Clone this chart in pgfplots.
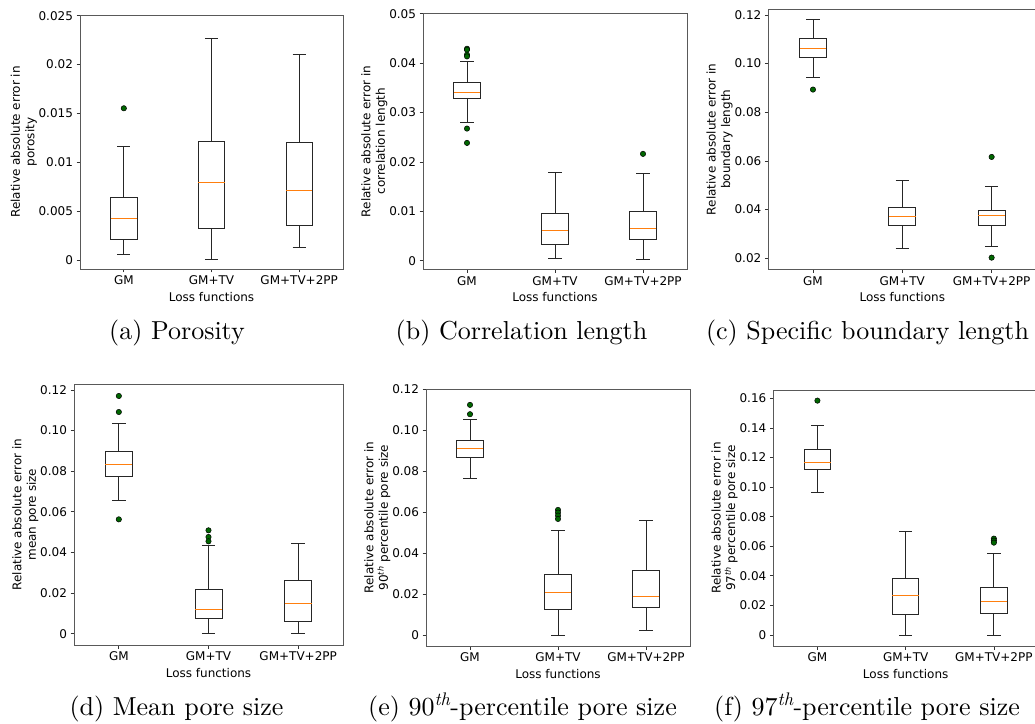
\documentclass[border=0pt]{standalone}
\usepackage{fontspec}
\setsansfont{DejaVu Sans}
\newfontfamily\capfont{lmroman10-regular}[Extension=.otf, ItalicFont=lmroman10-italic]
\usepackage{pgfplots}
\pgfplotsset{compat=1.18}
\usepgfplotslibrary{statistics}
\definecolor{mplorange}{HTML}{FF7F0E}
\definecolor{outgreen}{HTML}{006600}
\pgfplotsset{
  myax/.style={
    scale only axis,
    xmin=0.5, xmax=3.5,
    xtick={1,2,3}, xticklabels={GM,GM+TV,GM+TV+2PP},
    xlabel={Loss functions},
    tick pos=left, tick align=outside,
    major tick length=3.5pt,
    tick style={black!80, line width=0.7pt},
    axis line style={black!65, line width=0.8pt},
    ylabel style={align=center},
    ylabel shift=-5pt,
    tick label style={font=\sffamily\fontsize{12}{14.5}\selectfont},
    label style={font=\sffamily\fontsize{12}{14.5}\selectfont},
    scaled y ticks=false,
    boxplot/draw direction=y,
    boxplot/box extend=0.3,
    boxplot/whisker extend=0.15,
    clip=false,
  },
  bx/.style={black!85, line width=0.9pt, mark=*, mark size=2.7pt,
    mark options={fill=outgreen, draw=black, line width=0.5pt},
    boxplot/every median/.style={draw=mplorange, line width=0.9pt}},
}
\newcommand{\capf}{\capfont\fontsize{26}{30}\selectfont}
\begin{document}
\begin{tikzpicture}
\useasboundingbox (0pt,0pt) rectangle (1035pt,723pt);
% (a)
\begin{axis}[myax, at={(80pt,454pt)}, anchor=south west, width=263pt, height=254pt,
  ymin=-0.00088, ymax=0.02507,
  ytick={0,0.005,0.01,0.015,0.02,0.025}, yticklabels={0,0.005,0.01,0.015,0.02,0.025},
  ylabel={Relative absolute error in\\porosity}]
\addplot[bx, boxplot prepared={draw position=1, lower whisker=0.00065, lower quartile=0.00218, median=0.00432, upper quartile=0.00646, upper whisker=0.01163}] table[row sep=\\, y index=0] {y\\0.01554\\};
\addplot[bx, boxplot prepared={draw position=2, lower whisker=0.00014, lower quartile=0.00327, median=0.00799, upper quartile=0.01214, upper whisker=0.02269}] coordinates {};
\addplot[bx, boxplot prepared={draw position=3, lower whisker=0.00129, lower quartile=0.0036, median=0.00714, upper quartile=0.01204, upper whisker=0.02105}] coordinates {};
\end{axis}
% (b)
\begin{axis}[myax, at={(423pt,453.7pt)}, anchor=south west, width=264pt, height=256pt,
  ymin=-0.00175, ymax=0.0501,
  ytick={0,0.01,0.02,0.03,0.04,0.05}, yticklabels={0,0.01,0.02,0.03,0.04,0.05},
  ylabel={Relative absolute error in\\correlation length}]
\addplot[bx, boxplot prepared={draw position=1, lower whisker=0.0279, lower quartile=0.03295, median=0.03403, upper quartile=0.03612, upper whisker=0.04043}] table[row sep=\\, y index=0] {y\\0.04292\\0.04272\\0.04171\\0.04137\\0.02675\\0.02385\\};
\addplot[bx, boxplot prepared={draw position=2, lower whisker=0.00047, lower quartile=0.0033, median=0.0062, upper quartile=0.0095, upper whisker=0.01792}] coordinates {};
\addplot[bx, boxplot prepared={draw position=3, lower whisker=0.00027, lower quartile=0.00431, median=0.0066, upper quartile=0.00997, upper whisker=0.01766}] table[row sep=\\, y index=0] {y\\0.02163\\};
\end{axis}
% (c)
\begin{axis}[myax, at={(768.3pt,453.7pt)}, anchor=south west, width=268pt, height=260pt,
  ymin=0.01548, ymax=0.1223,
  ytick={0.02,0.04,0.06,0.08,0.1,0.12}, yticklabels={0.02,0.04,0.06,0.08,0.10,0.12},
  ylabel={Relative absolute error in\\boundary length}]
\addplot[bx, boxplot prepared={draw position=1, lower whisker=0.09425, lower quartile=0.10247, median=0.1063, upper quartile=0.11027, upper whisker=0.11795}] table[row sep=\\, y index=0] {y\\0.08932\\};
\addplot[bx, boxplot prepared={draw position=2, lower whisker=0.02411, lower quartile=0.03329, median=0.03699, upper quartile=0.04082, upper whisker=0.05205}] coordinates {};
\addplot[bx, boxplot prepared={draw position=3, lower whisker=0.02479, lower quartile=0.03329, median=0.03753, upper quartile=0.03986, upper whisker=0.04945}] table[row sep=\\, y index=0] {y\\0.06164\\0.02027\\};
\end{axis}
% (d)
\begin{axis}[myax, at={(74pt,78pt)}, anchor=south west, width=269pt, height=260.7pt,
  ymin=-0.00558, ymax=0.1228,
  ytick={0,0.02,0.04,0.06,0.08,0.1,0.12}, yticklabels={0,0.02,0.04,0.06,0.08,0.10,0.12},
  ylabel={Relative absolute error in\\mean pore size}]
\addplot[bx, boxplot prepared={draw position=1, lower whisker=0.06566, lower quartile=0.07748, median=0.0834, upper quartile=0.0898, upper whisker=0.10358}] table[row sep=\\, y index=0] {y\\0.11705\\0.10916\\0.0563\\};
\addplot[bx, boxplot prepared={draw position=2, lower whisker=0, lower quartile=0.00755, median=0.01182, upper quartile=0.02183, upper whisker=0.0435}] table[row sep=\\, y index=0] {y\\0.05089\\0.04761\\0.04547\\};
\addplot[bx, boxplot prepared={draw position=3, lower whisker=0, lower quartile=0.00607, median=0.01477, upper quartile=0.02627, upper whisker=0.04449}] coordinates {};
\end{axis}
% (e)
\begin{axis}[myax, at={(426pt,77pt)}, anchor=south west, width=264pt, height=257pt,
  ymin=-0.00537, ymax=0.1201,
  ytick={0,0.02,0.04,0.06,0.08,0.1,0.12}, yticklabels={0,0.02,0.04,0.06,0.08,0.10,0.12},
  ylabel={Relative absolute error in\\90\textsuperscript{\itshape th} percentile pore size}]
\addplot[bx, boxplot prepared={draw position=1, lower whisker=0.0762, lower quartile=0.08678, median=0.09118, upper quartile=0.09493, upper whisker=0.10518}] table[row sep=\\, y index=0] {y\\0.11235\\0.10779\\};
\addplot[bx, boxplot prepared={draw position=2, lower whisker=0, lower quartile=0.01254, median=0.02068, upper quartile=0.0298, upper whisker=0.05096}] table[row sep=\\, y index=0] {y\\0.06106\\0.05976\\0.05829\\0.05666\\};
\addplot[bx, boxplot prepared={draw position=3, lower whisker=0.00244, lower quartile=0.01335, median=0.01905, upper quartile=0.03142, upper whisker=0.05601}] coordinates {};
\end{axis}
% (f)
\begin{axis}[myax, at={(773.3pt,77pt)}, anchor=south west, width=264.7pt, height=256pt,
  ymin=-0.00744, ymax=0.1656,
  ytick={0,0.02,0.04,0.06,0.08,0.1,0.12,0.14,0.16}, yticklabels={0,0.02,0.04,0.06,0.08,0.10,0.12,0.14,0.16},
  ylabel={Relative absolute error in\\97\textsuperscript{\itshape th} percentile pore size}]
\addplot[bx, boxplot prepared={draw position=1, lower whisker=0.09623, lower quartile=0.112, median=0.11673, upper quartile=0.1253, upper whisker=0.14152}] table[row sep=\\, y index=0] {y\\0.15842\\};
\addplot[bx, boxplot prepared={draw position=2, lower whisker=0, lower quartile=0.01397, median=0.02682, upper quartile=0.03831, upper whisker=0.06986}] coordinates {};
\addplot[bx, boxplot prepared={draw position=3, lower whisker=0, lower quartile=0.01465, median=0.02276, upper quartile=0.032, upper whisker=0.05521}] table[row sep=\\, y index=0] {y\\0.06513\\0.06377\\0.06242\\};
\end{axis}
% captions
\node[font=\capf, anchor=base] at (177pt,383pt) {(a) Porosity};
\node[font=\capf, anchor=base] at (521.5pt,383pt) {(b) Correlation length};
\node[font=\capf, anchor=base] at (867.5pt,383pt) {(c) Specific boundary length};
\node[font=\capf, anchor=base] at (176.5pt,8pt) {(d) Mean pore size};
\node[font=\capf, anchor=base] at (522.5pt,8pt) {(e) 90\textsuperscript{\itshape th}-percentile pore size};
\node[font=\capf, anchor=base] at (867pt,8pt) {(f) 97\textsuperscript{\itshape th}-percentile pore size};
\end{tikzpicture}
\end{document}
